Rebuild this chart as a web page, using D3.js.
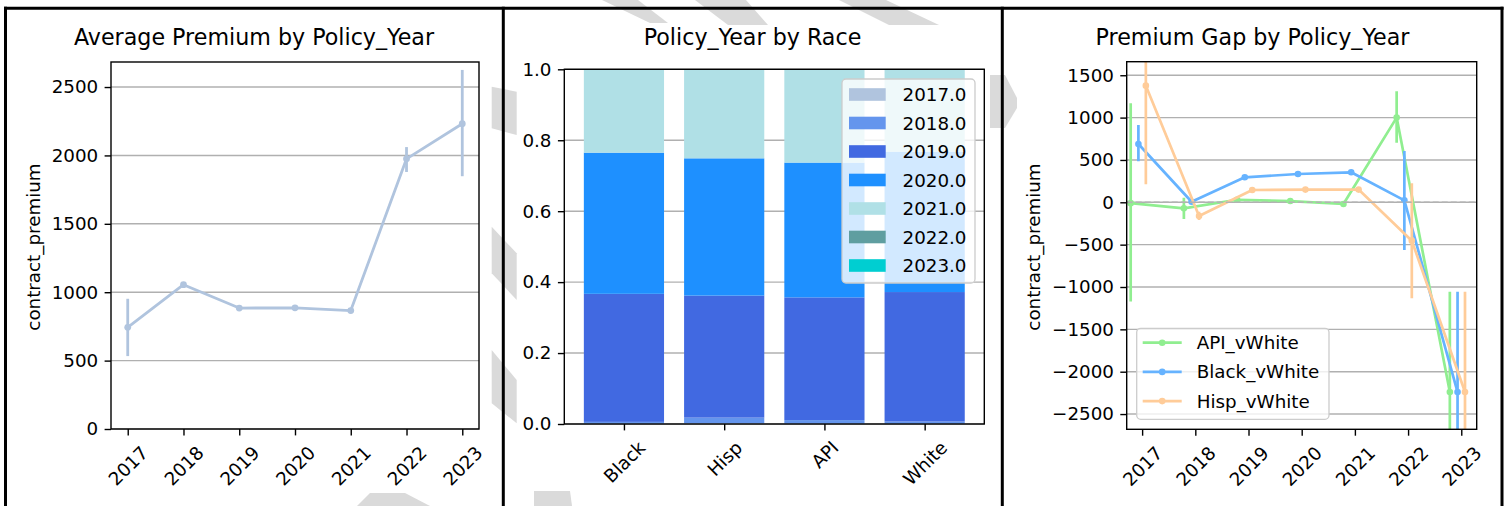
<!DOCTYPE html>
<html>
<head>
<meta charset="utf-8">
<script src="https://cdn.jsdelivr.net/npm/d3@7"></script>
<style>
  body { margin: 0; background: #fff; }
  svg { display: block; }
</style>
</head>
<body>
<svg id="fig" width="1509" height="506"></svg>
<script>
// ---- data ----------------------------------------------------------
const years = ["2017", "2018", "2019", "2020", "2021", "2022", "2023"];

// average contract premium by policy year, with CI bounds
const avgPremium = [743, 1055, 884, 886, 866, 1975, 2232];
const avgLow     = [533, 1045, 876, 878, 858, 1879, 1848];
const avgHigh    = [952, 1065, 892, 894, 874, 2061, 2625];
const avgTicks   = [0, 500, 1000, 1500, 2000, 2500];

// share of policies in each policy year, by race
const races = ["Black", "Hisp", "API", "White"];
const yearKeys = ["2017.0", "2018.0", "2019.0", "2020.0", "2021.0", "2022.0", "2023.0"];
const share2017 = [0.001, 0.002, 0.001, 0.001];
const share2018 = [0.005, 0.016, 0.010, 0.006];
const share2019 = [0.361, 0.344, 0.346, 0.365];
const share2020 = [0.398, 0.387, 0.380, 0.396];
const share2021 = [0.235, 0.251, 0.263, 0.232];
const share2022 = [0.000, 0.000, 0.000, 0.000];
const share2023 = [0.000, 0.000, 0.000, 0.000];
const shareTicks = [0, 0.2, 0.4, 0.6, 0.8, 1.0];
const yearColors = ["#b0c4de", "#6495ed", "#4169e1", "#1e90ff", "#b0e0e6", "#5f9ea0", "#00ced1"];

// premium gap vs White, by policy year
const gapSeries = ["API_vWhite", "Black_vWhite", "Hisp_vWhite"];
const apiGap    = [-10, -71, 30, 15, -20, 1000, -2240];
const apiLow    = [-1170, -197, 5, -5, -45, 704, -3425];
const apiHigh   = [1169, 54, 55, 35, 5, 1310, -1055];
const blackGap  = [688, 7, 295, 334, 354, 23, -2240];
const blackLow  = [484, -12, 280, 320, 340, -563, -3425];
const blackHigh = [912, 26, 310, 348, 368, 605, -1055];
const hispGap   = [1377, -162, 145, 150, 150, -453, -2240];
const hispLow   = [212, -209, 130, 135, 135, -1133, -3425];
const hispHigh  = [2540, -111, 160, 165, 165, 224, -1055];
const gapTicks  = [-2500, -2000, -1500, -1000, -500, 0, 500, 1000, 1500];
const gapColors = ["#90ee90", "#66b3ff", "#ffcc99"];

// ---- shared styling --------------------------------------------------
const FONT = "'DejaVu Sans', 'Liberation Sans', sans-serif";
const FS = 18.3, TITLE_FS = 22.2;
const TICK_LEN = 6.4, TICK_PAD = 6.4, AXIS_LW = 1.4;
const GRID = "#b0b0b0";

const svg = d3.select("#fig").attr("font-family", FONT);
svg.append("rect").attr("width", 1509).attr("height", 506).attr("fill", "#fff");

// faint diagonal watermark bands in the page background
const bands = [
  [[491.7, 86.7], [516.7, 91.7], [516.7, 135], [491.7, 128.3]],
  [[491.7, 226.7], [516.7, 253.3], [516.7, 300], [491.7, 273.3]],
  [[491.7, 350], [516.7, 380], [516.7, 423.3], [491.7, 403.3]],
  [[370, 493], [405, 493], [430, 506], [357, 506]],
  [[534, 491], [570, 491], [572, 506], [534, 506]],
  [[602, 0], [638, 0], [668, 23], [650, 23]],
  [[695, 0], [746, 0], [768, 25], [728, 25]],
  [[839, 0], [886, 0], [939, 25], [889, 25]],
  [[990, 75], [1005, 75], [1017, 98], [1017, 108], [1005, 128], [990, 128]]
];
svg.append("g").selectAll("path").data(bands).join("path")
  .attr("d", d => "M" + d.map(p => p.join(",")).join("L") + "Z")
  .attr("fill", "#dadada");

function styleAxis(g) {
  g.attr("font-family", FONT).attr("font-size", FS);
  g.selectAll(".domain").remove();
  g.selectAll(".tick line").attr("stroke", "#000").attr("stroke-width", AXIS_LW);
  g.selectAll(".tick text").attr("fill", "#000");
}
function rotateLabels(g) {
  g.selectAll(".tick text")
    .attr("y", 0).attr("dy", null)
    .attr("text-anchor", "middle")
    .attr("dominant-baseline", "central")
    .attr("transform", function () {
      const w = this.getComputedTextLength();
      return `translate(0,${TICK_LEN + TICK_PAD + (w + 21.3) * 0.3536}) rotate(-45)`;
    });
}
function drawYAxis(g, x, scale, ticks, fmt) {
  g.append("g").attr("transform", `translate(${x},0)`)
    .call(d3.axisLeft(scale).tickValues(ticks).tickFormat(fmt).tickSize(TICK_LEN).tickPadding(TICK_PAD))
    .call(styleAxis);
}
function drawXAxis(g, y, scale) {
  g.append("g").attr("transform", `translate(0,${y})`)
    .call(d3.axisBottom(scale).tickSize(TICK_LEN).tickPadding(TICK_PAD))
    .call(styleAxis).call(rotateLabels);
}
function drawGrid(g, scale, ticks, x0, x1) {
  g.append("g").selectAll("line").data(ticks).join("line")
    .attr("x1", x0).attr("x2", x1)
    .attr("y1", d => scale(d)).attr("y2", d => scale(d))
    .attr("stroke", GRID).attr("stroke-width", AXIS_LW);
}
function drawFrame(g, x0, x1, y0, y1) {
  g.append("rect").attr("x", x0).attr("y", y0).attr("width", x1 - x0).attr("height", y1 - y0)
    .attr("fill", "none").attr("stroke", "#000").attr("stroke-width", AXIS_LW);
}
function drawTitle(text, cx) {
  svg.append("text").attr("x", cx).attr("y", 45).attr("text-anchor", "middle")
    .attr("font-size", TITLE_FS).attr("fill", "#000").text(text);
}
function drawYLabel(text, cx, cy) {
  svg.append("text").attr("transform", `translate(${cx},${cy}) rotate(-90)`)
    .attr("text-anchor", "middle").attr("dominant-baseline", "central")
    .attr("font-size", FS).attr("fill", "#000").text(text);
}

// ---- panel 1: average premium --------------------------------------
{
  const L = 111, R = 479, T = 62, B = 429;
  const g = svg.append("g");
  const x = d3.scalePoint().domain(years).range([L, R]).padding(0.3);
  const y = d3.scaleLinear().domain([0, 2683]).range([B, T]);
  g.append("rect").attr("x", L).attr("y", T).attr("width", R - L).attr("height", B - T).attr("fill", "#fff");
  drawGrid(g, y, avgTicks, L, R);
  const color = "#b0c4de";
  const pts = years.map((yr, i) => ({ yr, v: avgPremium[i], lo: avgLow[i], hi: avgHigh[i] }));
  g.append("path").datum(pts)
    .attr("d", d3.line().x(d => x(d.yr)).y(d => y(d.v)))
    .attr("fill", "none").attr("stroke", color).attr("stroke-width", 2.8).attr("stroke-linejoin", "round");
  g.append("g").selectAll("line").data(pts).join("line")
    .attr("x1", d => x(d.yr)).attr("x2", d => x(d.yr))
    .attr("y1", d => y(d.lo)).attr("y2", d => y(d.hi))
    .attr("stroke", color).attr("stroke-width", 2.8);
  g.append("g").selectAll("circle").data(pts).join("circle")
    .attr("cx", d => x(d.yr)).attr("cy", d => y(d.v)).attr("r", 3.4).attr("fill", color);
  drawFrame(g, L, R, T, B);
  drawYAxis(g, L, y, avgTicks, d3.format("d"));
  drawXAxis(g, B, x);
  drawTitle("Average Premium by Policy_Year", 254);
  drawYLabel("contract_premium", 33, 247);
}

// ---- panel 2: policy-year mix by race ------------------------------
{
  const L = 564.3, R = 984.3, T = 69.3, B = 424;
  const g = svg.append("g");
  const x = d3.scaleBand().domain(races).range([L, R]).paddingInner(0.2).paddingOuter(0.195);
  const y = d3.scaleLinear().domain([0, 1]).range([B, T]);
  const shares = [share2017, share2018, share2019, share2020, share2021, share2022, share2023];
  const rows = races.map((r, i) => {
    const o = { race: r };
    yearKeys.forEach((k, j) => { o[k] = shares[j][i]; });
    return o;
  });
  const stacked = d3.stack().keys(yearKeys)(rows);
  g.append("rect").attr("x", L).attr("y", T).attr("width", R - L).attr("height", B - T).attr("fill", "#fff");
  drawGrid(g, y, shareTicks, L, R);
  g.append("g").selectAll("g").data(stacked).join("g")
    .attr("fill", (d, i) => yearColors[i])
    .selectAll("rect").data(d => d).join("rect")
    .attr("x", d => x(d.data.race)).attr("width", x.bandwidth())
    .attr("y", d => y(d[1])).attr("height", d => Math.max(0, y(d[0]) - y(d[1])));
  drawFrame(g, L, R, T, B);
  const xc = d3.scalePoint().domain(races).range([x(races[0]) + x.bandwidth() / 2, x(races[3]) + x.bandwidth() / 2]);
  drawYAxis(g, L, y, shareTicks, d3.format(".1f"));
  drawXAxis(g, B, xc);
  drawTitle("Policy_Year by Race", 752.5);

  // legend
  const lg = g.append("g");
  lg.append("rect").attr("x", 842).attr("y", 79).attr("width", 133).attr("height", 204).attr("rx", 4)
    .attr("fill", "#fff").attr("fill-opacity", 0.8).attr("stroke", "#cccccc").attr("stroke-width", 1.3);
  const item = lg.selectAll("g").data(yearKeys).join("g")
    .attr("transform", (d, i) => `translate(849,${94.5 + i * 28.5})`);
  item.append("rect").attr("x", 0).attr("y", -6.3).attr("width", 36.7).attr("height", 12.6)
    .attr("fill", (d, i) => yearColors[i]);
  item.append("text").attr("x", 53.5).attr("dominant-baseline", "central")
    .attr("font-size", FS).attr("fill", "#000").text(d => d);
}

// ---- panel 3: premium gap ------------------------------------------
{
  const L = 1126.7, R = 1476.7, T = 61.7, B = 429.3;
  const g = svg.append("g");
  const x = d3.scalePoint().domain(years).range([L, R]).padding(0.29);
  const y = d3.scaleLinear().domain([-2680, 1660]).range([B, T]);
  const dodge = [-0.215, -0.07, 0.07].map(d => d * x.step());
  const vals = [apiGap, blackGap, hispGap];
  const lows = [apiLow, blackLow, hispLow];
  const highs = [apiHigh, blackHigh, hispHigh];
  const series = gapSeries.map((name, s) => ({
    name, color: gapColors[s],
    pts: years.map((yr, i) => ({ px: x(yr) + dodge[s], v: vals[s][i], lo: lows[s][i], hi: highs[s][i] }))
  }));

  svg.append("clipPath").attr("id", "clip3").append("rect")
    .attr("x", L).attr("y", T).attr("width", R - L).attr("height", B - T);
  g.append("rect").attr("x", L).attr("y", T).attr("width", R - L).attr("height", B - T).attr("fill", "#fff");
  drawGrid(g, y, gapTicks, L, R);

  const plot = g.append("g").attr("clip-path", "url(#clip3)");
  series.forEach(s => {
    const sg = plot.append("g");
    sg.append("path").datum(s.pts)
      .attr("d", d3.line().x(d => d.px).y(d => y(d.v)))
      .attr("fill", "none").attr("stroke", s.color).attr("stroke-width", 2.7).attr("stroke-linejoin", "round");
    sg.selectAll("line").data(s.pts).join("line")
      .attr("x1", d => d.px).attr("x2", d => d.px)
      .attr("y1", d => y(d.lo)).attr("y2", d => y(d.hi))
      .attr("stroke", s.color).attr("stroke-width", 2.7);
    sg.selectAll("circle").data(s.pts).join("circle")
      .attr("cx", d => d.px).attr("cy", d => y(d.v)).attr("r", 3.3).attr("fill", s.color);
  });
  // zero reference line
  plot.append("line").attr("x1", L).attr("x2", R).attr("y1", y(0)).attr("y2", y(0))
    .attr("stroke", "#b3b3b3").attr("stroke-width", 1.6).attr("stroke-dasharray", "6,3");

  drawFrame(g, L, R, T, B);
  drawYAxis(g, L, y, gapTicks, d3.format("d"));
  drawXAxis(g, B, x);
  drawTitle("Premium Gap by Policy_Year", 1252.5);
  drawYLabel("contract_premium", 1033, 247);

  // legend
  const lg = g.append("g");
  lg.append("rect").attr("x", 1136.7).attr("y", 328.3).attr("width", 192.3).attr("height", 91).attr("rx", 4)
    .attr("fill", "#fff").attr("fill-opacity", 0.8).attr("stroke", "#cccccc").attr("stroke-width", 1.3);
  const item = lg.selectAll("g").data(series).join("g")
    .attr("transform", (d, i) => `translate(1142.7,${342.7 + i * 29.2})`);
  item.append("line").attr("x1", 0).attr("x2", 39).attr("stroke", d => d.color).attr("stroke-width", 2.7);
  item.append("circle").attr("cx", 19.5).attr("r", 3.3).attr("fill", d => d.color);
  item.append("text").attr("x", 54).attr("dominant-baseline", "central")
    .attr("font-size", FS).attr("fill", "#000").text(d => d.name);
}

// ---- panel borders ---------------------------------------------------
const border = svg.append("g").attr("stroke", "#000").attr("stroke-width", 3);
border.append("line").attr("x1", 4).attr("x2", 1503.5).attr("y1", 8.3).attr("y2", 8.3);
[5.5, 503.3, 1002.3, 1502].forEach(xv =>
  border.append("line").attr("x1", xv).attr("x2", xv).attr("y1", 6.8).attr("y2", 506));
</script>
</body>
</html>
